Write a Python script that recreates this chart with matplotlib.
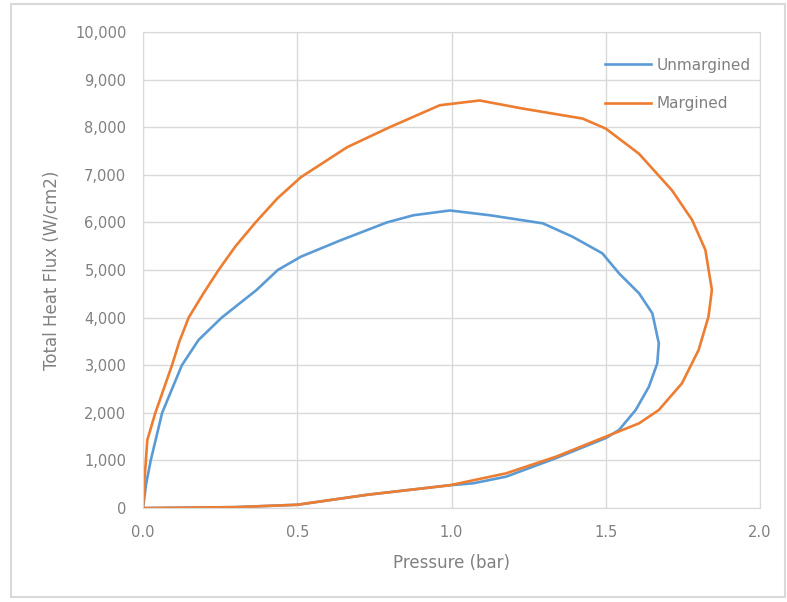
import matplotlib
matplotlib.use('Agg')
import matplotlib.pyplot as plt
from matplotlib.patches import Rectangle
from matplotlib.ticker import FuncFormatter

# pressure (bar) / total heat flux (W/cm2)
unmargined_p = [0.0, 0.01, 0.025, 0.062, 0.126, 0.18, 0.255, 0.368, 0.437, 0.512,
                0.641, 0.791, 0.877, 0.995, 1.124, 1.296, 1.392, 1.489, 1.543, 1.608,
                1.651, 1.672, 1.667, 1.640, 1.597, 1.543, 1.50, 1.339, 1.177, 1.07,
                0.995, 0.727, 0.5, 0.3, 0.0]
unmargined_q = [0, 500, 1000, 2000, 3000, 3530, 4000, 4580, 5000, 5280,
                5625, 6000, 6150, 6250, 6150, 5980, 5700, 5350, 4930, 4510,
                4090, 3460, 3040, 2550, 2060, 1640, 1470, 1050, 660, 520,
                480, 280, 70, 20, 0]

margined_p = [0.0, 0.005, 0.014, 0.04, 0.094, 0.118, 0.148, 0.195, 0.245, 0.30,
              0.365, 0.435, 0.512, 0.662, 0.80, 0.962, 1.091, 1.231, 1.425, 1.50,
              1.608, 1.715, 1.780, 1.823, 1.844, 1.833, 1.801, 1.747, 1.672, 1.608,
              1.50, 1.339, 1.177, 0.995, 0.727, 0.5, 0.3, 0.0]
margined_q = [0, 600, 1430, 2000, 3000, 3500, 4000, 4500, 5000, 5500,
              6000, 6500, 6950, 7580, 8000, 8460, 8560, 8390, 8180, 7970,
              7440, 6670, 6050, 5420, 4580, 4020, 3320, 2620, 2060, 1780,
              1500, 1080, 730, 480, 280, 70, 20, 0]

x_ticks = [0.0, 0.5, 1.0, 1.5, 2.0]
y_ticks = list(range(0, 10001, 1000))

grey = '#808080'
fig = plt.figure(figsize=(7.87, 6.02), dpi=100)

# chart border, as in the spreadsheet export
fig.patches.append(Rectangle((0.014, 0.008), 0.984, 0.986, transform=fig.transFigure,
                             fill=False, edgecolor='#d9d9d9', linewidth=1.5))

ax = fig.add_axes([0.1817, 0.156, 0.784, 0.791])
ax.plot(unmargined_p, unmargined_q, color='#5b9bd5', linewidth=1.9, label='Unmargined')
ax.plot(margined_p, margined_q, color='#ed7d31', linewidth=1.9, label='Margined')

ax.set_xlim(0, 2.0)
ax.set_ylim(0, 10000)
ax.set_xticks(x_ticks)
ax.set_yticks(y_ticks)
ax.xaxis.set_major_formatter(FuncFormatter(lambda v, p: '%.1f' % v))
ax.yaxis.set_major_formatter(FuncFormatter(lambda v, p: '{:,.0f}'.format(v)))
ax.tick_params(length=0, labelsize=10.5, labelcolor=grey)
ax.tick_params(axis='y', pad=12)
ax.tick_params(axis='x', pad=12)
ax.grid(True, color='#d9d9d9', linewidth=1)
ax.set_axisbelow(True)
for s in ax.spines.values():
    s.set_color('#d9d9d9')

ax.set_xlabel('Pressure (bar)', fontsize=12, color=grey, labelpad=10)
ax.set_ylabel('Total Heat Flux (W/cm2)', fontsize=12, color=grey, labelpad=10)

leg = ax.legend(loc='upper right', frameon=False, fontsize=11, handlelength=3.0,
                handletextpad=0.4, labelspacing=1.55, borderaxespad=0.2,
                bbox_to_anchor=(1.0, 0.965))
for t in leg.get_texts():
    t.set_color(grey)

fig.savefig('out.png', dpi=100)
